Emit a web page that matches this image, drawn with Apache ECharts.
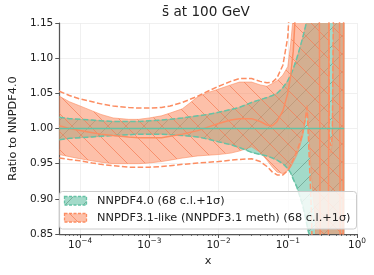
<!DOCTYPE html>
<html><head><meta charset="utf-8">
<script src="https://cdn.jsdelivr.net/npm/echarts@6/dist/echarts.min.js"></script>
<style>html,body{margin:0;padding:0;background:#fff}#c{width:374px;height:275px}</style>
</head><body><div id="c"></div>
<script>
// ---------- data ----------
const xs = [5e-5, 7e-5, 1e-4, 1.5e-4, 2e-4, 3e-4, 5e-4, 7e-4, 1e-3, 1.5e-3, 2e-3, 3e-3, 5e-3, 7e-3,
  1e-2, 1.5e-2, 2e-2, 3e-2, 4e-2, 5e-2, 6e-2, 7e-2, 8.5e-2, 0.1, 0.11, 0.12, 0.135, 0.15, 0.165, 0.18,
  0.19, 0.2, 0.22, 0.25, 0.28, 0.3, 0.32, 0.35, 0.38, 0.4, 0.42, 0.44, 0.48, 0.55, 0.58, 0.62, 0.65];

const tealCentral = [1,1,1,1,1,1,1,1,1,1,1,1,1,1,1,1,1,1,1,1,1,1,1,1,1,1,1,1,1,1,1,1,1,1,1,1,1,1,1,1,1,1,1,1,1,1,1];
const tealHi = [1.016,1.014,1.013,1.012,1.011,1.010,1.010,1.010,1.011,1.012,1.013,1.015,1.018,1.020,
  1.023,1.027,1.030,1.037,1.041,1.044,1.047,1.050,1.058,1.068,1.076,1.085,1.100,1.115,1.130,1.145,
  1.155,1.170,1.4,1.4,1.4,1.4,1.4,1.4,1.4,1.4,1.4,1.4,1.4,1.4,1.4,1.4,1.4];
const tealLo = [0.984,0.986,0.987,0.988,0.989,0.990,0.991,0.992,0.992,0.992,0.991,0.990,0.988,0.985,
  0.981,0.977,0.973,0.966,0.963,0.961,0.958,0.955,0.950,0.943,0.937,0.928,0.917,0.903,0.890,0.873,
  0.862,0.852,0.845,0.80,0.6,0.6,0.6,0.6,0.6,0.6,0.6,0.6,0.6,0.6,0.6,0.6,0.6];

const oraCentral = [1.004,1.000,0.997,0.994,0.992,0.990,0.988,0.987,0.987,0.987,0.989,0.992,0.997,1.002,
  1.007,1.012,1.014,1.014,1.010,1.005,1.004,1.010,1.025,1.050,1.075,1.110,1.200,1.4,1.4,1.4,
  1.4,1.4,1.4,1.4,1.4,0.6,0.6,0.6,0.6,1.4,1.4,1.4,1.4,1.4,0.6,0.6,1.4];
const oraHi = [1.046,1.038,1.032,1.025,1.020,1.015,1.013,1.013,1.015,1.018,1.022,1.028,1.045,1.051,
  1.056,1.062,1.066,1.066,1.062,1.060,1.064,1.068,1.076,1.088,1.12,1.16,1.4,1.4,1.4,1.4,
  1.4,1.4,1.4,1.4,1.4,1.4,1.4,1.4,1.4,0.98,0.965,0.98,1.4,1.4,1.4,1.4,1.4];
const oraLo = [0.963,0.960,0.957,0.954,0.952,0.950,0.950,0.950,0.951,0.953,0.955,0.958,0.961,0.962,
  0.963,0.965,0.968,0.974,0.966,0.955,0.945,0.938,0.936,0.940,0.945,0.952,0.962,0.975,0.990,1.012,
  1.033,1.000,0.930,0.870,0.6,0.6,0.6,0.6,0.6,0.6,0.6,0.6,0.6,0.6,0.6,0.6,0.6];
const oraSigHi = [1.053,1.047,1.042,1.038,1.035,1.032,1.030,1.029,1.029,1.030,1.032,1.037,1.046,1.053,
  1.060,1.067,1.071,1.071,1.067,1.065,1.066,1.072,1.090,1.130,1.200,1.4,1.4,1.4,1.4,1.4,
  1.4,1.4,1.4,1.4,1.4,1.4,1.4,1.4,1.4,0.99,0.975,0.99,1.4,1.4,1.4,1.4,1.4];
const oraSigLo = [0.958,0.956,0.954,0.951,0.949,0.947,0.945,0.945,0.945,0.946,0.947,0.949,0.951,0.952,
  0.953,0.955,0.956,0.957,0.953,0.946,0.938,0.934,0.934,0.940,0.948,0.956,0.968,0.980,0.995,1.015,
  1.030,0.980,0.880,0.6,0.6,0.6,0.6,0.6,0.6,0.6,0.6,0.6,0.6,0.6,0.6,0.6,0.6];

const xMajorTicks = [1e-4, 1e-3, 1e-2, 1e-1, 1];
const xMinorTicks = [6e-5,7e-5,8e-5,9e-5, 2e-4,3e-4,4e-4,5e-4,6e-4,7e-4,8e-4,9e-4,
  2e-3,3e-3,4e-3,5e-3,6e-3,7e-3,8e-3,9e-3, 2e-2,3e-2,4e-2,5e-2,6e-2,7e-2,8e-2,9e-2,
  0.2,0.3,0.4,0.5,0.6,0.7,0.8,0.9];
const titleText = 's\u0304 at 100 GeV';
const legendNames = ['NNPDF4.0 (68 c.l.+1\u03c3)', 'NNPDF3.1-like (NNPDF3.1 meth) (68 c.l.+1\u03c3)'];

// ---------- styling ----------
const FONT = 'DejaVu Sans';
const TEAL = '#66c2a5', ORANGE = '#fc8d62';
const AX = '#555555';

function hatch(fill, line, dir) {
  const s = 18, c = document.createElement('canvas');
  c.width = s; c.height = s;
  const g = c.getContext('2d');
  g.fillStyle = fill; g.fillRect(0, 0, s, s);
  g.strokeStyle = line; g.lineWidth = 0.9;
  g.beginPath();
  if (dir === '/') {
    g.moveTo(-2, s + 2); g.lineTo(s + 2, -2);
  } else {
    g.moveTo(-2, -2); g.lineTo(s + 2, s + 2);
  }
  g.stroke();
  return { type: 'pattern', image: c, repeat: 'repeat' };
}
const tealPat = hatch('rgba(102,194,165,0.6)', 'rgba(70,125,105,0.5)', '/');
const oraPat = hatch('rgba(252,141,98,0.55)', 'rgba(245,125,85,0.8)', '\\');

function band(lo, hi, pat, edge, z) {
  return {
    type: 'custom', coordinateSystem: 'cartesian2d', silent: true, z: z,
    data: [[xs[0], lo[0]]], encode: { x: 0, y: 1 },
    renderItem: function (params, api) {
      const pts = [];
      for (let i = 0; i < xs.length; i++) pts.push(api.coord([xs[i], hi[i]]));
      for (let i = xs.length - 1; i >= 0; i--) pts.push(api.coord([xs[i], lo[i]]));
      const cs = params.coordSys;
      return {
        type: 'polygon', shape: { points: pts },
        style: { fill: pat, stroke: edge, lineWidth: 1 },
        clipPath: { type: 'rect', shape: { x: cs.x, y: cs.y, width: cs.width, height: cs.height } }
      };
    }
  };
}
function line(vals, color, dashed, z) {
  return {
    type: 'line', showSymbol: false, silent: true, clip: true, z: z,
    data: xs.map((x, i) => [x, vals[i]]),
    lineStyle: { color: color, width: 1.5, type: dashed ? [5.5, 2.4] : 'solid' }
  };
}

const supFmt = v => {
  const e = Math.round(Math.log10(v));
  return '{b|10}{s|' + (e < 0 ? '\u2212' + (-e) : String(e)) + '}';
};

const chart = echarts.init(document.getElementById('c'), null, { renderer: 'canvas' });
chart.setOption({
  animation: false,
  backgroundColor: '#ffffff',
  title: {
    text: titleText, left: 206, top: 5, textAlign: 'center', padding: 0,
    textStyle: { fontFamily: FONT, fontSize: 13.6, fontWeight: 'normal', color: '#222' }
  },
  grid: { left: 55, right: 17, top: 23, bottom: 41, containLabel: false },
  xAxis: [{
    type: 'log', logBase: 10, min: 5e-5, max: 1,
    name: 'x', nameLocation: 'middle', nameGap: 21,
    nameTextStyle: { fontFamily: FONT, fontSize: 11.3, color: '#222' },
    axisLine: { show: true, lineStyle: { color: AX, width: 1.25 } },
    axisTick: { show: true, customValues: xMajorTicks, length: 4, lineStyle: { color: AX, width: 1 } },
    axisLabel: {
      customValues: xMajorTicks, formatter: supFmt, margin: 4,
      color: '#222', fontFamily: FONT, fontSize: 10.5,
      rich: {
        b: { fontFamily: FONT, fontSize: 10.5, color: '#222' },
        s: { fontFamily: FONT, fontSize: 7.4, color: '#222', padding: [0, 0, 8, 0] }
      }
    },
    splitLine: { show: true, lineStyle: { color: '#ececec', width: 0.8 } }
  }, {
    type: 'log', logBase: 10, min: 5e-5, max: 1, position: 'bottom',
    axisLine: { show: false },
    axisTick: { show: true, customValues: xMinorTicks, length: 2, lineStyle: { color: AX, width: 0.8 } },
    axisLabel: { show: false }, splitLine: { show: false }
  }],
  yAxis: {
    type: 'value', min: 0.85, max: 1.15, interval: 0.05,
    name: 'Ratio to NNPDF4.0', nameLocation: 'middle', nameGap: 37,
    nameTextStyle: { fontFamily: FONT, fontSize: 11.3, color: '#222' },
    axisLine: { show: true, lineStyle: { color: AX, width: 1.25 } },
    axisTick: { show: true, length: 4, lineStyle: { color: AX, width: 1 } },
    axisLabel: { formatter: v => v.toFixed(2), margin: 6, color: '#222', fontFamily: FONT, fontSize: 10.5 },
    splitLine: { show: true, lineStyle: { color: '#ececec', width: 0.8 } }
  },
  series: [
    band(tealLo, tealHi, tealPat, 'rgba(102,194,165,0.5)', 1),
    band(oraLo, oraHi, oraPat, 'rgba(252,141,98,0.6)', 2),
    line(oraSigHi, ORANGE, true, 3),
    line(oraSigLo, ORANGE, true, 3),
    line(tealHi, TEAL, true, 4),
    line(tealLo, TEAL, true, 4),
    line(oraCentral, ORANGE, false, 5),
    line(tealCentral, TEAL, false, 6)
  ],
  graphic: [
    { type: 'rect', z: 100, shape: { x: 59.5, y: 191.5, width: 297, height: 37.5, r: 3 },
      style: { fill: 'rgba(255,255,255,0.8)', stroke: '#cccccc', lineWidth: 1 } },
    { type: 'rect', z: 101, shape: { x: 64.5, y: 196.5, width: 22, height: 8.5 },
      style: { fill: tealPat, stroke: TEAL, lineWidth: 1.3, lineDash: [3, 1.5] } },
    { type: 'rect', z: 101, shape: { x: 64.5, y: 213.5, width: 22, height: 8.5 },
      style: { fill: oraPat, stroke: ORANGE, lineWidth: 1.3, lineDash: [3, 1.5] } },
    { type: 'text', z: 101, x: 97, y: 201, style: { text: legendNames[0], fontFamily: FONT, fontSize: 11.3,
      fill: '#222', verticalAlign: 'middle', textAlign: 'left' } },
    { type: 'text', z: 101, x: 97, y: 218, style: { text: legendNames[1], fontFamily: FONT, fontSize: 11.3,
      fill: '#222', verticalAlign: 'middle', textAlign: 'left' } }
  ]
});
</script></body></html>
